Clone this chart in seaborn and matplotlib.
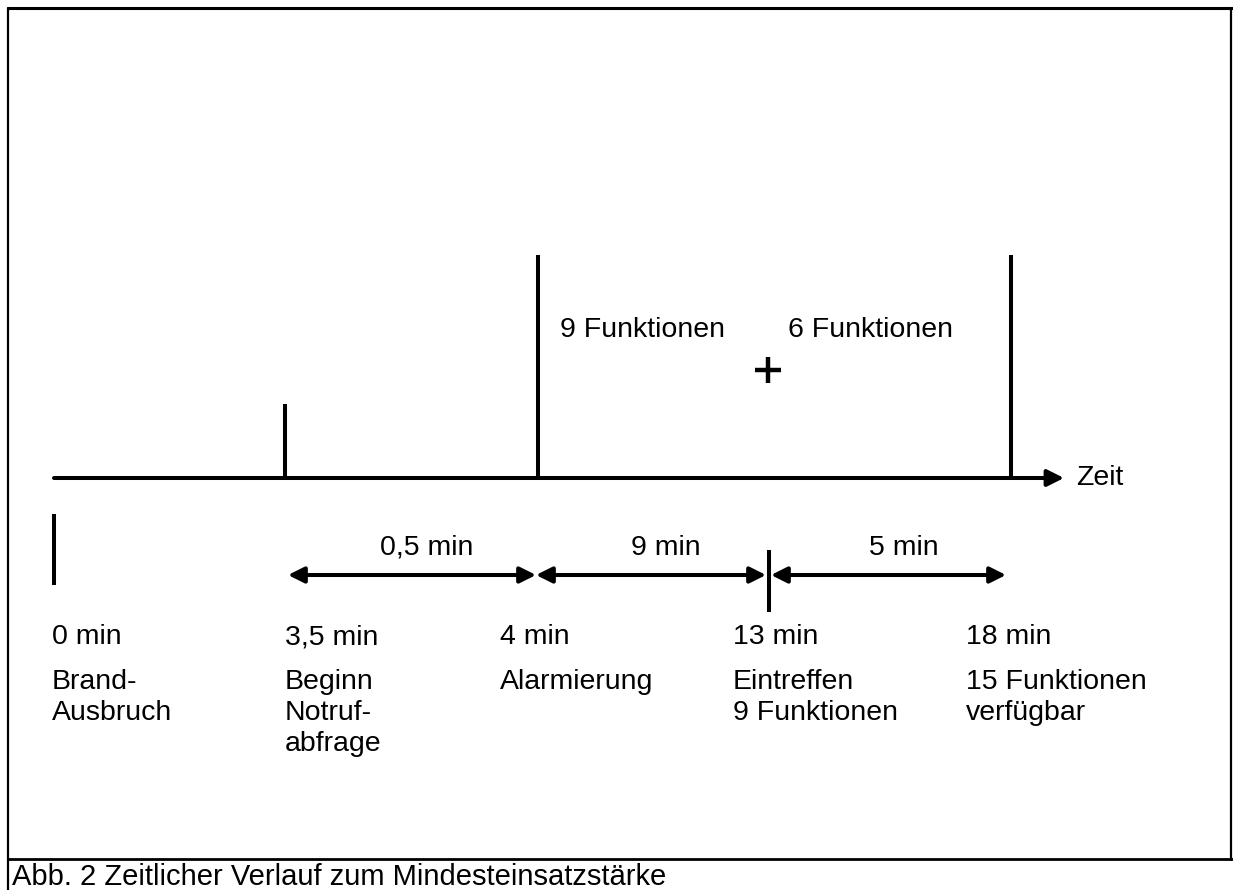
import matplotlib
matplotlib.use("Agg")
import matplotlib.pyplot as plt
import seaborn as sns

# event data (schematic timeline)
times = ["0 min", "3,5 min", "4 min", "13 min", "18 min"]
labels = ["Brand-\nAusbruch", "Beginn\nNotruf-\nabfrage", "Alarmierung",
          "Eintreffen\n9 Funktionen", "15 Funktionen\nverfügbar"]
durations = ["0,5 min", "9 min", "5 min"]
phase_labels = ["9 Funktionen", "6 Funktionen"]
caption = "Abb. 2 Zeitlicher Verlauf zum Mindesteinsatzstärke"

# layout of the drawing in pixel units
text_x = [52, 285, 500, 733, 966]
tick_x = [285, 538, 1011]
tick_top = [404, 255, 255]
axis_y = 478
span_x = [(288, 536), (536, 766), (771, 1006)]
span_y = 575

sns.set_theme(style="white")
plt.rcParams['font.family'] = ['Liberation Sans', 'DejaVu Sans']
plt.rcParams['text.color'] = 'black'

fig = plt.figure(figsize=(12.33, 8.9), dpi=100)
ax = fig.add_axes([0, 0, 1, 1])
ax.set_xlim(0, 1233)
ax.set_ylim(890, 0)
ax.axis("off")

lw = 2.9
fs = 20.5

# frame
ax.plot([8, 1233], [8, 8], color="black", lw=2.2)
ax.plot([8, 8], [8, 890], color="black", lw=1.6)
ax.plot([1231, 1231], [8, 860], color="black", lw=1.6)
ax.plot([8, 1233], [859, 859], color="black", lw=2.0)

# main time axis
ax.annotate("", xy=(1064, axis_y), xytext=(54, axis_y),
            arrowprops=dict(arrowstyle="-|>", lw=lw, color="black",
                            mutation_scale=25, shrinkA=0, shrinkB=0))
ax.text(1076, axis_y, "Zeit", fontsize=fs, va="center", ha="left")

# start marker and event ticks
ax.plot([54, 54], [514, 585], color="black", lw=lw, solid_capstyle="butt")
ax.vlines(tick_x, tick_top, axis_y, color="black", lw=lw)
ax.plot([769, 769], [550, 612], color="black", lw=lw, solid_capstyle="butt")

# duration spans
for (x0, x1), d in zip(span_x, durations):
    ax.annotate("", xy=(x1, span_y), xytext=(x0, span_y),
                arrowprops=dict(arrowstyle="<|-|>", lw=lw, color="black",
                                mutation_scale=24, shrinkA=0, shrinkB=0))
    ax.text((x0 + x1) / 2 + 15, 548, d, fontsize=fs, ha="center", va="center")

# phase labels
ax.text(560, 330, phase_labels[0], fontsize=fs, ha="left", va="center")
ax.text(788, 330, phase_labels[1], fontsize=fs, ha="left", va="center")
ax.plot([768], [370], marker="+", markersize=19, mew=3.2, color="black")

# time and event labels
for x, t, lab in zip(text_x, times, labels):
    ax.text(x, 637, t, fontsize=fs, ha="left", va="center")
    ax.text(x, 669, lab, fontsize=fs, ha="left", va="top", linespacing=1.24)

ax.text(12, 885, caption, fontsize=21, ha="left", va="baseline")

fig.savefig("out.png", dpi=100)
